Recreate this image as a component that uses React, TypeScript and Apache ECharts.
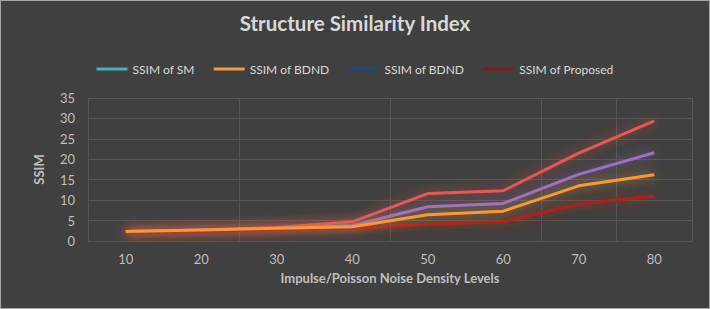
import React, { useEffect, useRef } from "react";
import * as echarts from "echarts";

const categories = ["10", "20", "30", "40", "50", "60", "70", "80"];
const yTicks = [0, 5, 10, 15, 20, 25, 30, 35];
const ssimSM = [2.3, 2.7, 3.3, 4.7, 11.6, 12.3, 21.5, 29.4];
const ssimBDND = [2.3, 2.7, 3.1, 3.5, 6.4, 7.3, 13.5, 16.2];
const ssimBDND2 = [2.3, 2.7, 3.1, 3.8, 8.4, 9.2, 16.3, 21.6];
const ssimProposed = [2.0, 2.4, 2.8, 3.1, 4.1, 4.7, 9.0, 11.0];

const seriesNames = ["SSIM of SM", "SSIM of BDND", "SSIM of BDND (2)", "SSIM of Proposed"];
const lineColors = ["#df5b57", "#f7993a", "#9a70bf", "#a82424"];
const glowColors = ["rgba(230,70,60,0.8)", "rgba(255,170,40,0.75)", "rgba(150,100,200,0.75)", "rgba(200,40,30,0.75)"];
const legendColors = ["#4bacc6", "#f79646", "#1f497d", "#7f1f1f"];
const zOrder = [2, 5, 3, 4];

export default function App() {
  const ref = useRef<HTMLDivElement>(null);
  useEffect(() => {
    document.body.style.margin = "0";
    if (!ref.current) return;
    const chart = echarts.init(ref.current, undefined, { renderer: "svg" });
    const dataSets = [ssimSM, ssimBDND, ssimBDND2, ssimProposed];
    const font = "Lato, 'Open Sans', sans-serif";
    chart.setOption({
      animation: false,
      backgroundColor: "#404040",
      textStyle: { fontFamily: font },
      title: {
        text: "Structure Similarity Index",
        left: "center",
        top: 7,
        textStyle: { color: "#d9d9d9", fontSize: 20.5, fontWeight: "bold", fontFamily: font },
      },
      legend: {
        top: 58,
        left: "center",
        icon: "rect",
        itemWidth: 31,
        itemHeight: 3,
        itemGap: 19,
        textStyle: { color: "#d9d9d9", fontSize: 12, fontFamily: font },
        formatter: (name: string) => name.replace(" (2)", ""),
        data: seriesNames.map((n, i) => ({ name: n, itemStyle: { color: legendColors[i] } })),
      },
      grid: { left: 88, right: 18, top: 98, bottom: 68 },
      xAxis: {
        type: "category",
        data: categories,
        boundaryGap: true,
        name: "Impulse/Poisson Noise Density Levels",
        nameLocation: "middle",
        nameGap: 30,
        nameTextStyle: { color: "#bfbfbf", fontSize: 13, fontWeight: "bold", fontFamily: font },
        axisLine: { show: true, lineStyle: { color: "#565656" } },
        axisTick: { show: false },
        axisLabel: { color: "#bfbfbf", fontSize: 13, margin: 11, fontFamily: font },
        splitLine: {
          show: true,
          interval: (index: number) => index === 0 || index === 2 || index === 4 || index === 6 || index === 7,
          lineStyle: { color: "#565656", width: 1 },
        },
      },
      yAxis: {
        type: "value",
        min: yTicks[0],
        max: yTicks[yTicks.length - 1],
        interval: yTicks[1] - yTicks[0],
        name: "SSIM",
        nameLocation: "middle",
        nameGap: 43,
        nameTextStyle: { color: "#bfbfbf", fontSize: 13, fontWeight: "bold", fontFamily: font },
        axisLine: { show: false },
        axisTick: { show: false },
        axisLabel: { color: "#bfbfbf", fontSize: 13, margin: 13, fontFamily: font },
        splitLine: { show: true, lineStyle: { color: "#565656", width: 1 } },
      },
      series: seriesNames.map((n, i) => ({
        name: n,
        type: "line",
        data: dataSets[i],
        showSymbol: false,
        symbol: "none",
        z: zOrder[i],
        itemStyle: { color: legendColors[i] },
        lineStyle: {
          color: lineColors[i],
          width: 3,
          shadowBlur: 12,
          shadowColor: glowColors[i],
        },
      })),
    });
    return () => chart.dispose();
  }, []);
  return (
    <div style={{ position: "relative", width: 710, height: 309 }}>
      <div ref={ref} style={{ width: 710, height: 309 }} />
      <div
        style={{
          position: "absolute",
          left: 0,
          top: 0,
          width: 710,
          height: 309,
          boxSizing: "border-box",
          border: "1px solid #a6a6a6",
          pointerEvents: "none",
        }}
      />
    </div>
  );
}
